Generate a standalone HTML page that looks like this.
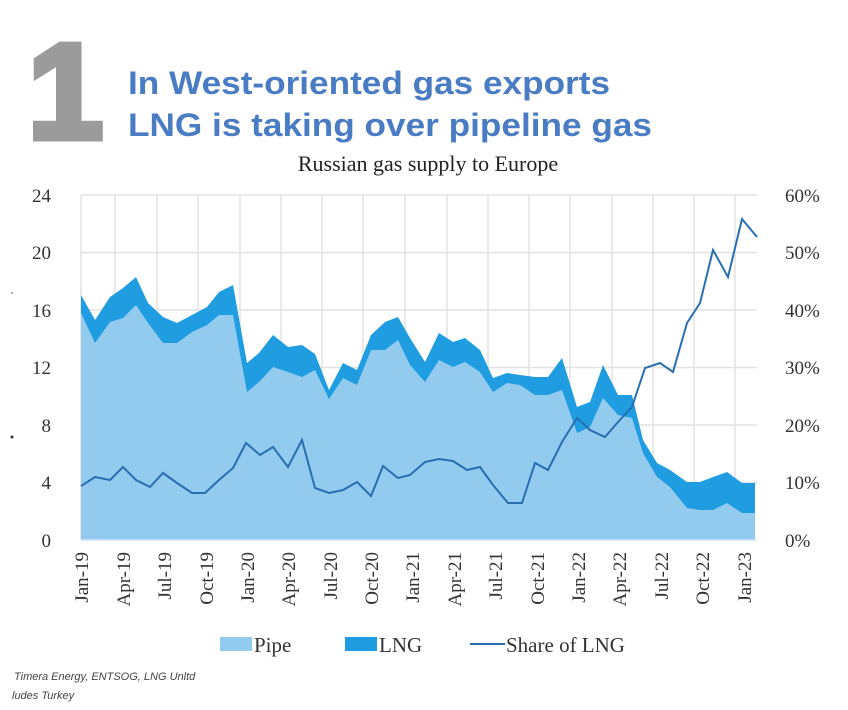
<!DOCTYPE html>
<html><head><meta charset="utf-8"><style>
html,body{margin:0;padding:0;background:#fff;width:848px;height:710px;overflow:hidden}
</style></head><body>
<svg width="848" height="710" xmlns="http://www.w3.org/2000/svg">
<rect width="848" height="710" fill="#fff"/>
<text transform="translate(28,138) scale(1.0,1)" font-family="Liberation Sans,sans-serif" font-weight="bold" font-size="135" fill="#9b9b9b" stroke="#9b9b9b" stroke-width="7">1</text>
<text x="128" y="94" font-family="Liberation Sans,sans-serif" font-weight="bold" font-size="32" fill="#4a7cc4" textLength="482" lengthAdjust="spacingAndGlyphs">In West-oriented gas exports</text>
<text x="128" y="136" font-family="Liberation Sans,sans-serif" font-weight="bold" font-size="32" fill="#4a7cc4" textLength="524" lengthAdjust="spacingAndGlyphs">LNG is taking over pipeline gas</text>
<text x="428" y="171" text-anchor="middle" font-family="Liberation Serif,serif" font-size="22" fill="#222">Russian gas supply to Europe</text>
<g stroke="#e2e2e2" stroke-width="1.5">
<line x1="81" y1="195" x2="757" y2="195"/><line x1="81" y1="252.5" x2="757" y2="252.5"/><line x1="81" y1="310" x2="757" y2="310"/><line x1="81" y1="367.5" x2="757" y2="367.5"/><line x1="81" y1="425" x2="757" y2="425"/><line x1="81" y1="482.5" x2="757" y2="482.5"/>
<line x1="81" y1="195" x2="81" y2="540"/>
<line x1="115" y1="195" x2="115" y2="540"/><line x1="157" y1="195" x2="157" y2="540"/><line x1="198" y1="195" x2="198" y2="540"/><line x1="240" y1="195" x2="240" y2="540"/><line x1="281" y1="195" x2="281" y2="540"/><line x1="322" y1="195" x2="322" y2="540"/><line x1="363" y1="195" x2="363" y2="540"/><line x1="405" y1="195" x2="405" y2="540"/><line x1="447" y1="195" x2="447" y2="540"/><line x1="488" y1="195" x2="488" y2="540"/><line x1="529" y1="195" x2="529" y2="540"/><line x1="570" y1="195" x2="570" y2="540"/><line x1="612" y1="195" x2="612" y2="540"/><line x1="653" y1="195" x2="653" y2="540"/><line x1="694" y1="195" x2="694" y2="540"/><line x1="735" y1="195" x2="735" y2="540"/>
</g>
<polygon fill="#1f9de0" points="81,540 81,295 95,320 110,297 123,288 136,277 148,303 163,317 177,323 192,315 207,307 219,292 233,285 247,363 259,353 273,335 288,347 302,345 315,354 329,390 343,363 357,370 371,335 385,322 398,317 410,338 425,362 439,333 453,342 465,338 480,350 493,378 507,373 520,375 535,377 548,377 562,358 577,407 590,402 603,365 618,395 632,395 643,440 657,463 670,470 687,482 700,482 713,477 727,472 742,483 755,483 755,540"/>
<polygon fill="#93cbef" points="81,540 81,313 95,343 110,322 123,318 136,305 148,323 163,343 177,343 192,332 207,325 219,315 233,315 247,392 259,382 273,367 288,372 302,377 315,370 329,399 343,378 357,385 371,350 385,350 398,340 410,365 425,382 439,360 453,367 465,362 480,372 493,392 507,383 520,385 535,395 548,395 562,390 577,433 590,427 603,398 618,415 632,418 643,453 657,477 670,487 687,508 700,510 713,510 727,503 742,513 755,513 755,540"/>
<line x1="81" y1="540" x2="757" y2="540" stroke="#cfe6f6" stroke-width="1.5"/>
<polyline fill="none" stroke="#2a6eb2" stroke-width="2" points="81,486 95,477 110,480 123,467 136,480 150,487 163,473 177,483 192,493 205,493 219,480 233,468 246,443 260,455 273,447 288,467 302,440 315,488 329,493 343,490 357,482 371,496 383,466 398,478 410,475 425,462 439,459 453,461 467,470 480,467 493,485 508,503 522,503 535,463 548,470 562,442 577,418 590,430 605,437 618,422 632,407 645,368 660,363 673,372 687,323 700,303 713,250 728,277 742,219 757,237"/>
<g font-family="Liberation Serif,serif" font-size="19" fill="#333" text-anchor="end">
<text x="51" y="202">24</text><text x="51" y="259">20</text><text x="51" y="317">16</text><text x="51" y="374">12</text><text x="51" y="432">8</text><text x="51" y="489">4</text><text x="51" y="547">0</text>
</g>
<g font-family="Liberation Serif,serif" font-size="19" fill="#333">
<text x="785" y="202">60%</text><text x="785" y="259">50%</text><text x="785" y="317">40%</text><text x="785" y="374">30%</text><text x="785" y="432">20%</text><text x="785" y="489">10%</text><text x="785" y="547">0%</text>
</g>
<g font-family="Liberation Serif,serif" font-size="19" fill="#333" text-anchor="end">
<text transform="translate(88,552) rotate(-90)">Jan-19</text>
<text transform="translate(130,552) rotate(-90)">Apr-19</text>
<text transform="translate(171,552) rotate(-90)">Jul-19</text>
<text transform="translate(213,552) rotate(-90)">Oct-19</text>
<text transform="translate(254,552) rotate(-90)">Jan-20</text>
<text transform="translate(295,552) rotate(-90)">Apr-20</text>
<text transform="translate(337,552) rotate(-90)">Jul-20</text>
<text transform="translate(378,552) rotate(-90)">Oct-20</text>
<text transform="translate(419,552) rotate(-90)">Jan-21</text>
<text transform="translate(461,552) rotate(-90)">Apr-21</text>
<text transform="translate(502,552) rotate(-90)">Jul-21</text>
<text transform="translate(544,552) rotate(-90)">Oct-21</text>
<text transform="translate(585,552) rotate(-90)">Jan-22</text>
<text transform="translate(626,552) rotate(-90)">Apr-22</text>
<text transform="translate(668,552) rotate(-90)">Jul-22</text>
<text transform="translate(709,552) rotate(-90)">Oct-22</text>
<text transform="translate(751,552) rotate(-90)">Jan-23</text>
</g>
<rect x="220" y="637" width="32" height="14" fill="#93cbef"/>
<rect x="345" y="637" width="32" height="14" fill="#1f9de0"/>
<line x1="470" y1="644" x2="505" y2="644" stroke="#2a6eb2" stroke-width="2"/>
<g font-family="Liberation Serif,serif" font-size="21" fill="#333">
<text x="254" y="652">Pipe</text><text x="379" y="652">LNG</text><text x="506" y="652">Share of LNG</text>
</g>
<g font-family="Liberation Sans,sans-serif" font-style="italic" font-size="11" fill="#444">
<text x="14" y="680">Timera Energy, ENTSOG, LNG Unltd</text>
<text x="12" y="699">ludes Turkey</text>
</g>
<circle cx="12" cy="437" r="1.5" fill="#333"/>
<circle cx="12" cy="293" r="1" fill="#999"/>
</svg>
</body></html>
